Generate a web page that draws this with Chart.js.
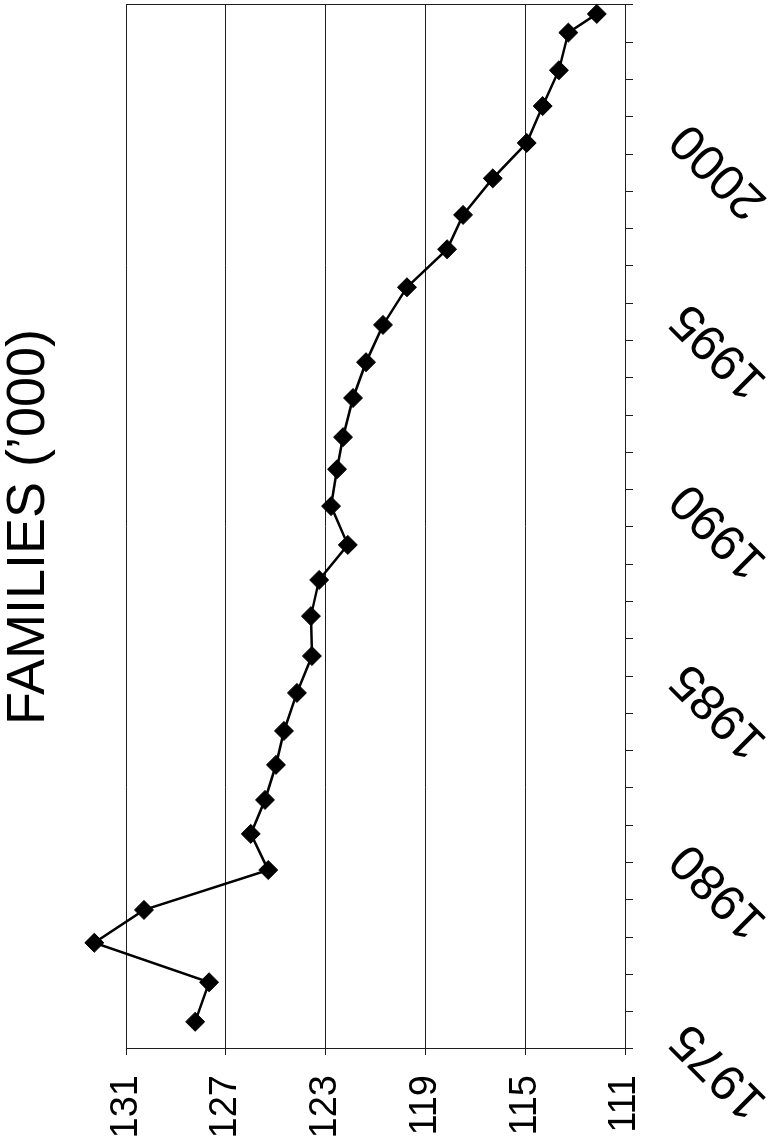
<!DOCTYPE html>
<html>
<head>
<meta charset="utf-8">
<script src="https://cdn.jsdelivr.net/npm/chart.js@4.4.1/dist/chart.umd.min.js"></script>
<style>
  html, body { margin: 0; padding: 0; background: #fff; overflow: hidden; }
  body { width: 777px; height: 1144px; position: relative; }
  #wrap {
    position: absolute; left: 0; top: 0;
    width: 1144px; height: 777px;
    transform-origin: 0 0;
    transform: translate(0px, 1144px) rotate(-90deg);
  }
  canvas { display: block; }
</style>
</head>
<body>
<div id="wrap"><canvas id="c" width="1144" height="777"></canvas></div>
<script>
// ---- data ----
const titleText = "FAMILIES (\u2019000)";
const yearLabels = ["1975","1976","1977","1978","1979","1980","1981","1982","1983","1984",
                    "1985","1986","1987","1988","1989","1990","1991","1992","1993","1994",
                    "1995","1996","1997","1998","1999","2000","2001","2002","2003"];
const pointYears = [1975.73, 1976.79, 1977.85, 1978.73, 1979.80, 1980.77, 1981.68, 1982.62,
                    1983.53, 1984.55, 1985.54, 1986.61, 1987.58, 1988.52, 1989.56, 1990.55,
                    1991.41, 1992.46, 1993.42, 1994.42, 1995.43, 1996.45, 1997.37, 1998.35,
                    1999.30, 2000.29, 2001.25, 2002.26, 2002.76];
const families = [128.23, 127.67, 132.27, 130.28, 125.30, 126.00, 125.43, 124.99,
                  124.67, 124.15, 123.55, 123.59, 123.26, 122.11, 122.78, 122.54,
                  122.30, 121.90, 121.38, 120.70, 119.74, 118.13, 117.49, 116.30,
                  114.94, 114.30, 113.65, 113.27, 112.13];
const valueTicks = [111, 115, 119, 123, 127, 131];

const points = pointYears.map((x, i) => ({ x: x, y: families[i] }));
const FONT = "'Liberation Sans', Arial, sans-serif";
const LINE = '#1e1e1e';

// let markers that sit just outside the plot frame (the 1977 peak) still be drawn
const drawOutside = {
  id: 'drawOutside',
  beforeDatasetsDraw(chart) {
    chart.$savedArea = chart.chartArea;
    chart.chartArea = { left: 0, top: 0, right: chart.width, bottom: chart.height,
                        width: chart.width, height: chart.height };
  },
  afterDatasetsDraw(chart) {
    if (chart.$savedArea) chart.chartArea = chart.$savedArea;
  }
};

new Chart(document.getElementById('c'), {
  type: 'line',
  data: {
    datasets: [{
      data: points,
      xAxisID: 'x',
      yAxisID: 'y',
      borderColor: '#000',
      borderWidth: 2.5,
      backgroundColor: '#000',
      pointStyle: 'rectRot',
      pointRadius: 9.5,
      pointBorderWidth: 1,
      pointBorderColor: '#000',
      pointBackgroundColor: '#000',
      tension: 0,
      clip: false
    }]
  },
  plugins: [drawOutside],
  options: {
    responsive: false,
    animation: false,
    devicePixelRatio: 1,
    layout: { autoPadding: false, padding: { left: 6, right: 5, top: 0, bottom: 0 } },
    plugins: {
      legend: { display: false },
      tooltip: { enabled: false },
      title: {
        display: true,
        text: titleText,
        fullSize: false,
        color: '#000',
        font: { family: FONT, size: 54, weight: 'normal', lineHeight: 1.08 },
        padding: { top: 0, bottom: 67.7 }
      }
    },
    scales: {
      x: {
        type: 'linear',
        position: 'bottom',
        min: 1975, max: 2003,
        ticks: { display: false, stepSize: 1, autoSkip: false },
        grid: { drawOnChartArea: false, drawTicks: true, tickLength: 8, color: LINE, lineWidth: 1 },
        border: { display: true, color: LINE, width: 1 },
        afterFit: (axis) => { axis.paddingLeft = 0; axis.paddingRight = 0; }
      },
      xLab: {
        type: 'category',
        position: 'bottom',
        labels: yearLabels,
        offset: true,
        grid: { display: false, drawTicks: false },
        border: { display: false },
        afterFit: (axis) => { axis.height = 144; axis.paddingLeft = 0; axis.paddingRight = 0; },
        ticks: {
          autoSkip: false,
          minRotation: 45, maxRotation: 45,
          padding: 26,
          color: '#000',
          font: { family: FONT, size: 50 },
          callback: function (v, i) {
            const lab = yearLabels[i];
            return (Number(lab) % 5 === 0) ? lab : null;
          }
        }
      },
      y: {
        type: 'linear',
        position: 'left',
        min: 111, max: 131,
        afterBuildTicks: (axis) => { axis.ticks = valueTicks.map(v => ({ value: v })); },
        afterFit: (axis) => { axis.width = 89; },
        ticks: { color: '#000', padding: 20, font: { family: FONT, size: 38 } },
        grid: { color: LINE, lineWidth: 1, tickLength: 6, drawTicks: true },
        border: { display: true, color: LINE, width: 1 }
      },
      yR: {
        type: 'linear',
        position: 'right',
        min: 111, max: 131,
        afterFit: (axis) => { axis.width = 0; },
        ticks: { display: false },
        grid: { display: false, drawTicks: false },
        border: { display: true, color: LINE, width: 1 }
      }
    }
  }
});
</script>
</body>
</html>
